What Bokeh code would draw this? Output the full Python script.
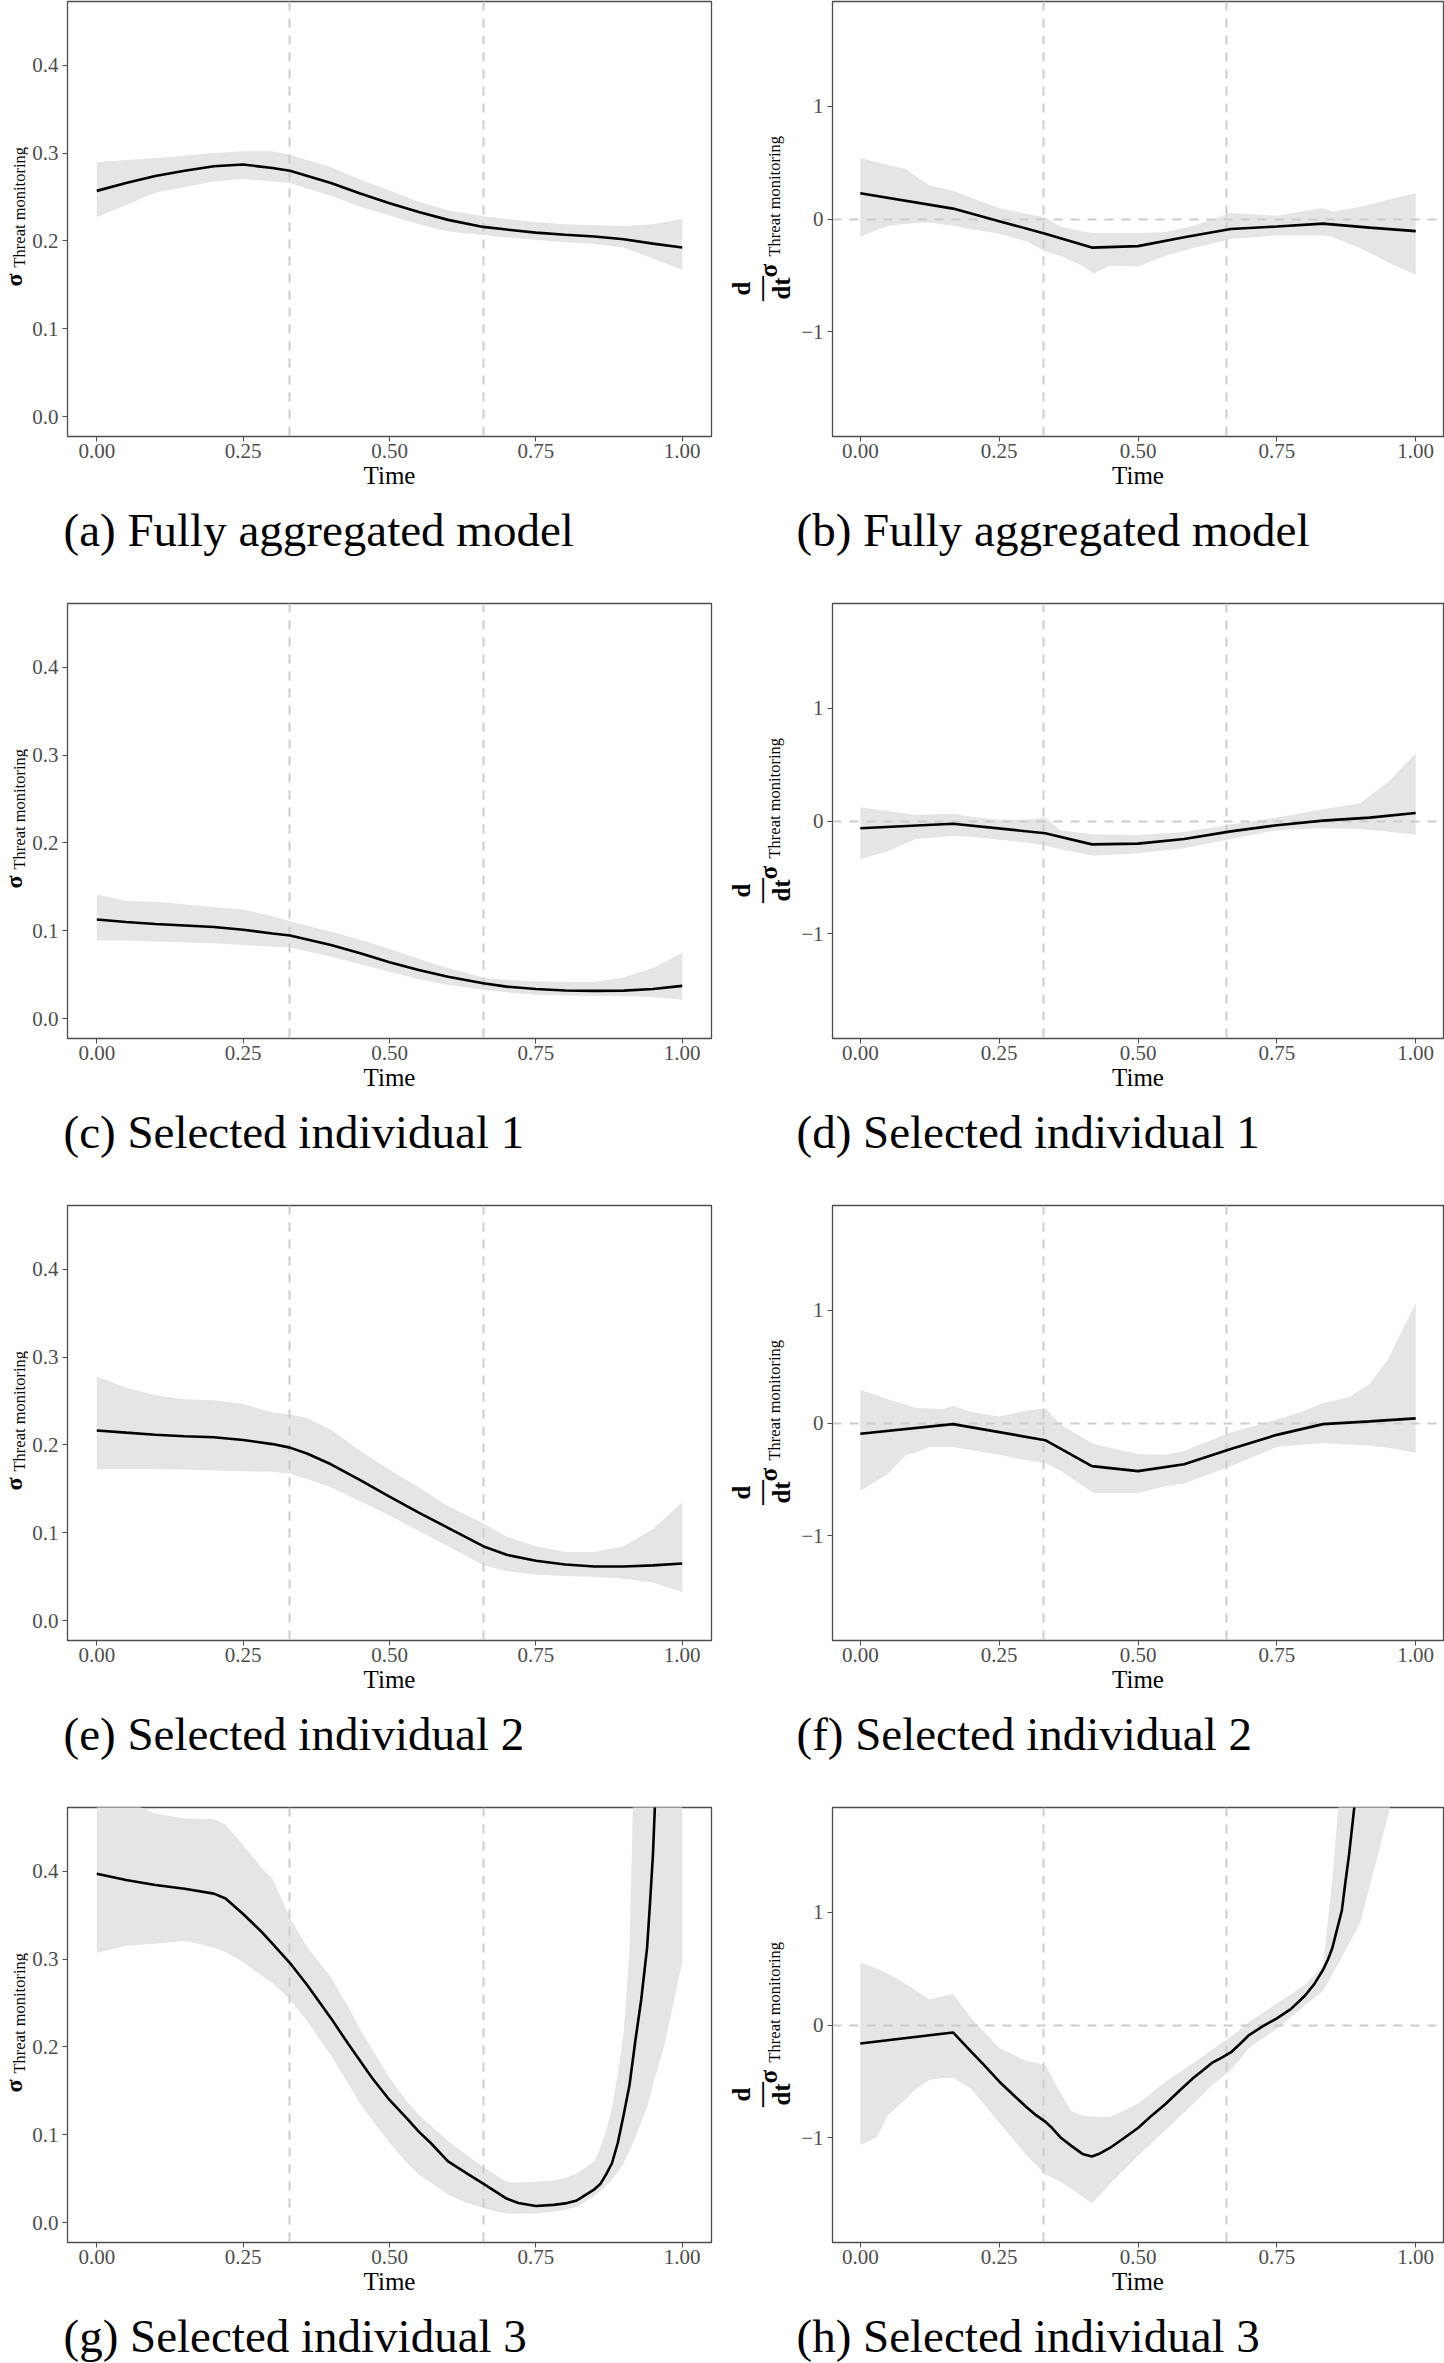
import math

from bokeh.plotting import figure
from bokeh.models import Range1d, FixedTicker, Label, PrintfTickFormatter
from bokeh.layouts import column, row
from bokeh.embed import file_html
from bokeh.resources import INLINE

SERIF = "Liberation Serif"

# Phase boundaries (vertical dashed lines)
PHASE_BOUNDS = [0.33, 0.66]

# ---------------- (a) fully aggregated model: level ----------------
A_T = [0, 0.05, 0.1, 0.15, 0.2, 0.25, 0.3, 0.33, 0.4, 0.45, 0.5, 0.55, 0.6,
       0.66, 0.7, 0.75, 0.8, 0.85, 0.9, 0.95, 1.0]
A_FIT = [0.257, 0.266, 0.274, 0.280, 0.285, 0.287, 0.283, 0.280, 0.266, 0.254,
         0.243, 0.233, 0.224, 0.216, 0.213, 0.2095, 0.207, 0.205, 0.202, 0.197, 0.1925]
A_HI = [0.290, 0.292, 0.294, 0.297, 0.300, 0.302, 0.302, 0.298, 0.284, 0.270,
        0.2575, 0.2445, 0.235, 0.228, 0.225, 0.2217, 0.219, 0.218, 0.217, 0.219, 0.225]
A_LO = [0.227, 0.241, 0.255, 0.2615, 0.2676, 0.2704, 0.2676, 0.2656, 0.2514, 0.239,
        0.229, 0.219, 0.2108, 0.2067, 0.204, 0.2014, 0.1986, 0.1965, 0.1925, 0.180, 0.167]

# ---------------- (b) fully aggregated model: derivative ----------------
B_FIT_T = [0, 0.167, 0.25, 0.333, 0.417, 0.5, 0.583, 0.667, 0.75, 0.833, 0.917, 1.0]
B_FIT = [0.228, 0.092, -0.019, -0.13, -0.253, -0.24, -0.161, -0.0885, -0.066, -0.041,
         -0.076, -0.107]
B_T = [0, 0.05, 0.083, 0.1, 0.125, 0.167, 0.2, 0.25, 0.3, 0.333, 0.36, 0.4, 0.42, 0.45,
       0.5, 0.55, 0.6, 0.667, 0.75, 0.8, 0.833, 0.85, 0.9, 0.95, 1.0]
B_HI = [0.54, 0.477, 0.44, 0.376, 0.297, 0.25, 0.186, 0.098, 0.044, 0.013, -0.066, -0.11,
        -0.123, -0.123, -0.123, -0.114, -0.06, 0.054, 0.028, 0.07, 0.098, 0.066, 0.107,
        0.171, 0.228]
B_LO = [-0.155, -0.06, -0.045, -0.035, -0.03, -0.06, -0.09, -0.13, -0.2, -0.288, -0.326,
        -0.414, -0.483, -0.414, -0.42, -0.326, -0.256, -0.177, -0.145, -0.145, -0.145,
        -0.16, -0.256, -0.382, -0.493]

# ---------------- (c) individual 1: level ----------------
C_T = [0, 0.05, 0.1, 0.2, 0.25, 0.3, 0.33, 0.4, 0.45, 0.5, 0.55, 0.6, 0.66, 0.7, 0.75,
       0.8, 0.85, 0.9, 0.95, 1.0]
C_FIT = [0.113, 0.110, 0.1078, 0.1043, 0.1013, 0.097, 0.0948, 0.0839, 0.0745, 0.0643,
         0.0555, 0.0478, 0.0404, 0.0365, 0.0339, 0.0322, 0.0317, 0.032, 0.0339, 0.0374]
C_HI = [0.1413, 0.134, 0.133, 0.127, 0.1243, 0.1165, 0.111, 0.099, 0.090, 0.0796,
        0.068, 0.0578, 0.047, 0.044, 0.0426, 0.042, 0.0417, 0.047, 0.0578, 0.0752]
C_LO = [0.0891, 0.089, 0.088, 0.086, 0.0839, 0.082, 0.081, 0.0709, 0.062, 0.0535,
        0.045, 0.0383, 0.033, 0.030, 0.0274, 0.0265, 0.026, 0.026, 0.0243, 0.0217]

# ---------------- (d) individual 1: derivative ----------------
D_FIT_T = [0, 0.167, 0.333, 0.417, 0.5, 0.583, 0.667, 0.75, 0.833, 0.917, 1.0]
D_FIT = [-0.064, -0.024, -0.108, -0.207, -0.2, -0.159, -0.092, -0.037, 0.003, 0.03, 0.071]
D_T = [0, 0.05, 0.1, 0.167, 0.2, 0.25, 0.3, 0.333, 0.36, 0.42, 0.5, 0.583, 0.667, 0.75,
       0.833, 0.9, 0.95, 1.0]
D_HI = [0.122, 0.088, 0.054, 0.064, 0.037, 0.01, 0.01, 0.03, -0.081, -0.119, -0.125,
        -0.098, -0.03, 0.03, 0.105, 0.156, 0.342, 0.597]
D_LO = [-0.336, -0.268, -0.159, -0.132, -0.14, -0.166, -0.19, -0.217, -0.25, -0.308,
        -0.285, -0.241, -0.159, -0.081, -0.064, -0.071, -0.092, -0.125]

# ---------------- (e) individual 2: level ----------------
E_T = [0, 0.05, 0.1, 0.15, 0.2, 0.25, 0.3, 0.33, 0.36, 0.4, 0.45, 0.5, 0.55, 0.6, 0.66,
       0.7, 0.75, 0.8, 0.85, 0.9, 0.95, 1.0]
E_FIT = [0.2165, 0.214, 0.2117, 0.21, 0.2087, 0.2057, 0.201, 0.197, 0.190, 0.178, 0.160,
         0.1413, 0.123, 0.1057, 0.0848, 0.075, 0.0683, 0.064, 0.0617, 0.0617, 0.063, 0.0652]
E_HI = [0.278, 0.265, 0.2565, 0.252, 0.251, 0.2465, 0.237, 0.235, 0.2304, 0.2174, 0.1935,
        0.1717, 0.152, 0.1304, 0.1109, 0.0957, 0.0848, 0.0783, 0.0783, 0.0848, 0.1043, 0.1348]
E_LO = [0.1726, 0.1726, 0.1726, 0.172, 0.1709, 0.170, 0.1696, 0.1674, 0.161, 0.152, 0.136,
        0.1196, 0.102, 0.0848, 0.063, 0.0565, 0.0522, 0.051, 0.05, 0.0478, 0.0435, 0.0326]

# ---------------- (f) individual 2: derivative ----------------
F_FIT_T = [0, 0.167, 0.333, 0.417, 0.5, 0.583, 0.667, 0.75, 0.833, 0.917, 1.0]
F_FIT = [-0.095, -0.01, -0.152, -0.382, -0.426, -0.365, -0.23, -0.105, -0.01, 0.014, 0.041]
F_T = [0, 0.05, 0.083, 0.1, 0.125, 0.15, 0.167, 0.2, 0.25, 0.3, 0.333, 0.36, 0.42, 0.5,
       0.55, 0.583, 0.667, 0.75, 0.8, 0.833, 0.88, 0.917, 0.95, 1.0]
F_HI = [0.294, 0.21, 0.16, 0.132, 0.128, 0.125, 0.152, 0.098, 0.058, 0.108, 0.132, -0.01,
        -0.186, -0.274, -0.281, -0.247, -0.085, 0.03, 0.108, 0.176, 0.227, 0.345, 0.565, 1.063]
F_LO = [-0.602, -0.45, -0.281, -0.26, -0.213, -0.213, -0.213, -0.24, -0.281, -0.33, -0.355,
        -0.42, -0.619, -0.619, -0.56, -0.535, -0.382, -0.213, -0.19, -0.179, -0.19, -0.2,
        -0.22, -0.264]

# ---------------- (g) individual 3: level ----------------
G_T = [0, 0.05, 0.1, 0.15, 0.2, 0.22, 0.25, 0.28, 0.3, 0.33, 0.36, 0.4, 0.43, 0.45, 0.47,
       0.5, 0.53, 0.55, 0.57, 0.6, 0.63, 0.66, 0.68, 0.7, 0.72, 0.75, 0.78, 0.8, 0.82,
       0.85, 0.86, 0.87, 0.88, 0.89, 0.9, 0.91, 0.92, 0.93, 0.94, 0.945, 0.95, 0.97, 1.0]
G_FIT = [0.397, 0.390, 0.3843, 0.380, 0.3745, 0.369, 0.3513, 0.332, 0.3175, 0.2955, 0.27,
         0.2328, 0.203, 0.184, 0.165, 0.1397, 0.1185, 0.1037, 0.091, 0.0698, 0.057, 0.0444,
         0.036, 0.0275, 0.0224, 0.019, 0.0203, 0.022, 0.0254, 0.038, 0.044, 0.055, 0.0677,
         0.091, 0.1228, 0.157, 0.2074, 0.254, 0.313, 0.364, 0.419, 0.75, 1.3]
G_HI = [0.49, 0.48, 0.4656, 0.46, 0.459, 0.453, 0.4296, 0.405, 0.3915, 0.347, 0.313,
        0.2794, 0.245, 0.22, 0.198, 0.165, 0.138, 0.1228, 0.111, 0.0931, 0.078, 0.0635,
        0.055, 0.0466, 0.0455, 0.0466, 0.048, 0.0508, 0.056, 0.07, 0.085, 0.105, 0.131,
        0.17, 0.216, 0.313, 0.6, 0.7, 0.8, 0.85, 0.9, 1.1, 1.5]
G_LO = [0.3069, 0.3153, 0.3175, 0.3208, 0.3132, 0.308, 0.2963, 0.282, 0.273, 0.254, 0.2286,
        0.1905, 0.158, 0.1355, 0.117, 0.091, 0.068, 0.055, 0.046, 0.0317, 0.023, 0.0169,
        0.013, 0.0106, 0.0102, 0.0106, 0.0125, 0.0148, 0.018, 0.0305, 0.036, 0.042, 0.0487,
        0.058, 0.0677, 0.082, 0.097, 0.114, 0.131, 0.144, 0.157, 0.203, 0.296]

# ---------------- (h) individual 3: derivative ----------------
H_FIT_T = [0, 0.167, 0.2, 0.22, 0.25, 0.28, 0.3, 0.317, 0.333, 0.345, 0.36, 0.38, 0.4,
           0.417, 0.43, 0.45, 0.475, 0.5, 0.525, 0.55, 0.575, 0.6, 0.617, 0.633, 0.65,
           0.667, 0.683, 0.7, 0.725, 0.75, 0.775, 0.8, 0.817, 0.833, 0.842, 0.85, 0.858,
           0.867, 0.873, 0.88, 0.9, 0.95, 1.0]
H_FIT = [-0.164, -0.066, -0.237, -0.34, -0.5, -0.64, -0.73, -0.80, -0.855, -0.91, -0.993,
         -1.07, -1.141, -1.164, -1.14, -1.086, -1.0, -0.911, -0.8, -0.697, -0.58, -0.467,
         -0.40, -0.336, -0.29, -0.243, -0.17, -0.089, -0.01, 0.059, 0.14, 0.257, 0.36,
         0.487, 0.58, 0.684, 0.84, 1.013, 1.25, 1.507, 2.4, 4.0, 5.5]
H_T = [0, 0.03, 0.05, 0.08, 0.1, 0.125, 0.15, 0.167, 0.2, 0.25, 0.3, 0.333, 0.36, 0.38,
       0.4, 0.417, 0.45, 0.5, 0.55, 0.6, 0.633, 0.667, 0.7, 0.75, 0.8, 0.833, 0.85, 0.867,
       0.875, 0.9, 0.95, 1.0]
H_HI = [0.553, 0.5, 0.454, 0.37, 0.306, 0.224, 0.257, 0.273, 0.059, -0.204, -0.319, -0.352,
        -0.599, -0.763, -0.8, -0.812, -0.812, -0.697, -0.5, -0.336, -0.22, -0.105, 0.026,
        0.191, 0.355, 0.52, 1.3, 2.3, 2.8, 3.5, 4.5, 6.0]
H_LO = [-1.059, -0.993, -0.796, -0.664, -0.566, -0.484, -0.47, -0.467, -0.566, -0.862,
        -1.158, -1.322, -1.388, -1.45, -1.52, -1.579, -1.405, -1.158, -0.928, -0.697, -0.533,
        -0.401, -0.204, -0.033, 0.17, 0.3, 0.45, 0.6, 0.68, 0.9, 1.85, 3.0]

CAPTIONS = [
    ("a", "Fully aggregated model"), ("b", "Fully aggregated model"),
    ("c", "Selected individual 1"), ("d", "Selected individual 1"),
    ("e", "Selected individual 2"), ("f", "Selected individual 2"),
    ("g", "Selected individual 3"), ("h", "Selected individual 3"),
]

LEVEL_TICKS = [0.0, 0.1, 0.2, 0.3, 0.4]
SLOPE_TICKS = [-1, 0, 1]
TIME_TICKS = [0.0, 0.25, 0.5, 0.75, 1.0]

CELL_W = 722
FRAME_TOP = 1
FRAME_H = 435
PANEL_H = 502            # panel figure: frame + x axis
FRAME_BOTTOM = FRAME_TOP + FRAME_H
BAND_COLOR = "#E5E5E5"
REF_COLOR = "#CCCCCC"
FRAME_COLOR = "#4D4D4D"
TICK_TEXT = "#4D4D4D"

# The text box anchor sits this fraction of the font size above the drawn
# baseline, so anchors are pulled back by it.
BASELINE_DROP = 0.32


def blank(width, height, top=0, bottom=0):
    """An empty drawing surface (no axes, no outline) used to hold text."""
    p = figure(width=width, height=height, output_backend="svg", toolbar_location=None,
               x_axis_type=None, y_axis_type=None, min_border=0,
               min_border_top=top, min_border_bottom=bottom,
               x_range=Range1d(0, 1), y_range=Range1d(0, 1))
    p.outline_line_color = None
    p.grid.visible = False
    p.background_fill_color = "white"
    p.border_fill_color = "white"
    return p


def put_text(p, text, x, y, size, bold=False, align="left", rotated=True):
    """Place text so that its baseline lands on (x, y) in screen pixels."""
    if rotated:
        x -= BASELINE_DROP * size
    else:
        y += BASELINE_DROP * size
    p.add_layout(Label(x=x, y=y, x_units="screen", y_units="screen", text=text,
                       angle=math.pi / 2 if rotated else 0, text_font=SERIF,
                       text_font_size=f"{size}px",
                       text_font_style="bold" if bold else "normal",
                       text_color="black", text_align=align,
                       text_baseline="alphabetic"))


def y_title(derivative):
    """Rotated y-axis title: [d/dt] sigma_{Threat monitoring}.

    The surface shares the panel's frame geometry, so y is measured up from
    the panel's frame bottom."""
    below = PANEL_H - FRAME_BOTTOM
    if derivative:
        p = blank(74, PANEL_H, FRAME_TOP, below)
        mid = FRAME_BOTTOM - 288
        put_text(p, "d", 27, mid, 25, bold=True, align="center")
        put_text(p, "\u2014", 45.5, mid, 25, bold=True, align="center")
        put_text(p, "dt", 67, mid, 25, bold=True, align="center")
        put_text(p, "\u03c3", 54, FRAME_BOTTOM - 277, 25, bold=True)
        put_text(p, "Threat monitoring", 57.5, FRAME_BOTTOM - 256, 16.5)
    else:
        p = blank(28, PANEL_H, FRAME_TOP, below)
        put_text(p, "\u03c3", 21.5, FRAME_BOTTOM - 286, 24, bold=True)
        put_text(p, "Threat monitoring", 24, FRAME_BOTTOM - 267, 16.5)
    return p


def panel(derivative, fit_t, fit, band_t, lo, hi, title_w):
    frame_left = 110 if derivative else 67
    right = 1 if derivative else 11
    ylim = (-1.925, 1.925) if derivative else (-0.0225, 0.4725)
    p = figure(width=CELL_W - title_w, height=PANEL_H, output_backend="svg",
               toolbar_location=None,
               x_range=Range1d(-0.05, 1.05), y_range=Range1d(*ylim),
               min_border=0, min_border_left=frame_left - title_w, min_border_right=right,
               min_border_top=FRAME_TOP, min_border_bottom=PANEL_H - FRAME_BOTTOM)
    p.background_fill_color = "white"
    p.border_fill_color = "white"
    p.outline_line_color = FRAME_COLOR
    p.outline_line_width = 1.3
    p.grid.visible = False

    p.varea(x=band_t, y1=lo, y2=hi, fill_color=BAND_COLOR)
    p.vspan(x=PHASE_BOUNDS, line_color=REF_COLOR, line_width=2, line_dash="9 8")
    if derivative:
        p.hspan(y=[0], line_color=REF_COLOR, line_width=2, line_dash="9 8")
    p.line(fit_t, fit, line_color="black", line_width=2.6)

    for ax in (p.xaxis[0], p.yaxis[0]):
        ax.axis_line_color = FRAME_COLOR
        ax.major_tick_line_color = FRAME_COLOR
        ax.major_tick_in = 0
        ax.major_tick_out = 5
        ax.minor_tick_line_color = None
        ax.major_label_text_font = SERIF
        ax.major_label_text_font_size = "21px"
        ax.major_label_text_color = TICK_TEXT

    xa = p.xaxis[0]
    xa.ticker = FixedTicker(ticks=TIME_TICKS, minor_ticks=[])
    xa.formatter = PrintfTickFormatter(format="%.2f")
    xa.major_label_standoff = 2
    xa.axis_label = "Time"
    xa.axis_label_text_font = SERIF
    xa.axis_label_text_font_size = "25px"
    xa.axis_label_text_font_style = "normal"
    xa.axis_label_text_color = "black"
    xa.axis_label_standoff = 1

    ya = p.yaxis[0]
    ya.major_label_standoff = 4
    if derivative:
        ya.ticker = FixedTicker(ticks=SLOPE_TICKS, minor_ticks=[])
        ya.major_label_overrides = {-1: "\u22121", 0: "0", 1: "1"}
    else:
        ya.ticker = FixedTicker(ticks=LEVEL_TICKS, minor_ticks=[])
        ya.formatter = PrintfTickFormatter(format="%.1f")
    return p


def caption(letter, text, derivative, height):
    # caption baseline sits 545 px below the top of its cell
    p = blank(CELL_W, height)
    put_text(p, f"({letter}) {text}", 74 if derivative else 63, height - (545 - PANEL_H),
             47, rotated=False)
    return p


panels_data = [
    (False, A_T, A_FIT, A_T, A_LO, A_HI),
    (True, B_FIT_T, B_FIT, B_T, B_LO, B_HI),
    (False, C_T, C_FIT, C_T, C_LO, C_HI),
    (True, D_FIT_T, D_FIT, D_T, D_LO, D_HI),
    (False, E_T, E_FIT, E_T, E_LO, E_HI),
    (True, F_FIT_T, F_FIT, F_T, F_LO, F_HI),
    (False, G_T, G_FIT, G_T, G_LO, G_HI),
    (True, H_FIT_T, H_FIT, H_T, H_LO, H_HI),
]

ROW_HEIGHTS = [602, 602, 602, 557]

rows = []
for r in range(4):
    cells = []
    for c in range(2):
        i = 2 * r + c
        letter, text = CAPTIONS[i]
        deriv, ft, fv, bt, lo, hi = panels_data[i]
        title = y_title(deriv)
        top = row(title, panel(deriv, ft, fv, bt, lo, hi, title.width), spacing=0)
        cells.append(column(top, caption(letter, text, deriv, ROW_HEIGHTS[r] - PANEL_H),
                            spacing=0))
    rows.append(row(*cells, spacing=0))

page = column(*rows, spacing=0)

open("out.html", "w").write(file_html(page, INLINE))
